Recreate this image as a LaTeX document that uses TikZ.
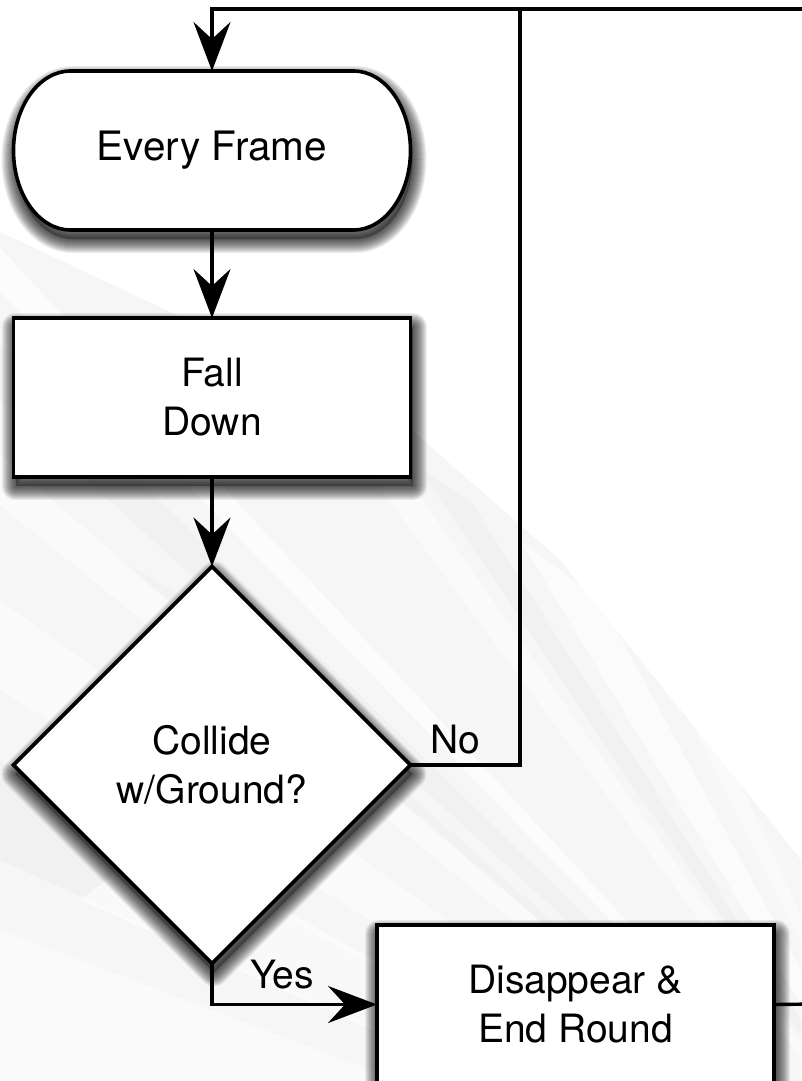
\documentclass[tikz,border=0pt]{standalone}
\usepackage{fontspec}
\setmainfont{TeX Gyre Heros}
\usetikzlibrary{arrows.meta,shapes.geometric}
\pgfdeclarelayer{back}
\pgfdeclarelayer{frame}
\pgfsetlayers{back,frame,main}

% soft drop shadow: a stack of translucent strokes of growing width
\newcommand\castshadow[1]{%
  \begin{scope}[transform canvas={xshift=2pt,yshift=-9pt}]
  \fill[black,opacity=.3] #1;
  \foreach \i in {1,...,14}{%
    \draw[black,opacity=.065,line width=2*\i pt,line join=round] #1;}%
  \end{scope}
}

\tikzset{
  txt/.style={font=\fontsize{39}{49}\selectfont,align=center},
  stepbox/.style={txt,draw=black,line width=3.6pt,fill=white,inner sep=0pt,
      outer sep=0pt,minimum width=397pt,minimum height=159pt},
  decision/.style={txt,diamond,aspect=1,draw=black,line width=3.6pt,fill=white,
      inner sep=0pt,outer sep=0pt,minimum width=397pt,minimum height=397pt},
  terminal/.style={font=\fontsize{40.5}{49}\selectfont,inner sep=0pt,
      outer sep=0pt,minimum width=397pt,minimum height=159pt},
  conn/.style={line width=3.4pt,draw=black,line join=miter},
  flow/.style={conn,-{Stealth[length=49pt,width=37pt,inset=17pt]}},
  tag/.style={font=\fontsize{39}{49}\selectfont,anchor=base,inner sep=0pt},
  streak/.style={fill=white,opacity=#1},
  dimstreak/.style={fill=black,opacity=#1}
}

\begin{document}
\begin{tikzpicture}[x=1pt,y=-1pt]
\useasboundingbox (0,0) rectangle (801,1081);

% ---------- nodes ----------
\node[terminal] (ef) at (212,150.5) {Every Frame};
\node[stepbox] (fall) at (212,397.5) {Fall\\Down};
\node[decision] (dec) at (212,765) {Collide\\w/Ground?};
\node[stepbox] (dis) at (575.5,1004.5) {Disappear \&\\End Round};

\node[tag] (no) at (455,753) {No};
\node[tag] (yes) at (282,988) {Yes};

\coordinate (topR) at (815,9);
\coordinate (loopUp) at (520,9);
\coordinate (exitR) at (815,1004);

% ---------- shadows and terminal outline ----------
\begin{pgfonlayer}{frame}
\def\stadium{([xshift=57pt]ef.north west) -- ([xshift=-57pt]ef.north east)
  arc[start angle=90,end angle=-90,x radius=57pt,y radius=79.5pt]
  -- ([xshift=57pt]ef.south west)
  arc[start angle=270,end angle=90,x radius=57pt,y radius=79.5pt]
  -- cycle}
\castshadow{\stadium}
\castshadow{(fall.north west) rectangle (fall.south east)}
\castshadow{(dec.north) -- (dec.east) -- (dec.south) -- (dec.west) -- cycle}
\castshadow{(dis.north west) rectangle (dis.south east)}
\draw[line width=3.6pt,fill=white] \stadium;
\end{pgfonlayer}

% ---------- background ----------
\begin{pgfonlayer}{back}
\fill[white] (0,0) rectangle (801,1081);
\fill[black!3.5] (0,232) -- (400,420) -- (560,560) -- (801,860)
  -- (801,1081) -- (0,1081) -- cycle;
\coordinate (vp) at (980,1300);
\fill[streak=.75] (vp) -- (0,248) -- (0,292) -- cycle;
\fill[dimstreak=.02] (vp) -- (0,345) -- (0,400) -- cycle;
\fill[streak=.55] (vp) -- (0,455) -- (0,505) -- cycle;
\fill[streak=.45] (vp) -- (0,600) -- (0,690) -- cycle;
\fill[dimstreak=.02] (vp) -- (0,760) -- (0,860) -- cycle;
\fill[streak=.55] (vp) -- (0,930) -- (0,1081) -- cycle;
\fill[streak=.5] (vp) -- (300,380) -- (360,410) -- cycle;
\fill[dimstreak=.02] (vp) -- (420,470) -- (470,500) -- cycle;
\fill[streak=.6] (vp) -- (520,540) -- (600,600) -- cycle;
\fill[streak=.5] (vp) -- (660,660) -- (720,740) -- cycle;
\fill[dimstreak=.015] (vp) -- (120,560) -- (190,600) -- cycle;
\fill[streak=.6] (vp) -- (160,840) -- (80,900) -- cycle;
\end{pgfonlayer}

% ---------- connectors ----------
\draw[flow] (topR) -| (ef.north);
\draw[flow] (ef.south) -- (fall.north);
\draw[flow] (fall.south) -- (dec.north);
\draw[conn] (dec.east) -| (loopUp);
\draw[flow] (dec.south) |- (dis.west);
\draw[conn] (dis.east) -- (exitR);
\end{tikzpicture}
\end{document}
